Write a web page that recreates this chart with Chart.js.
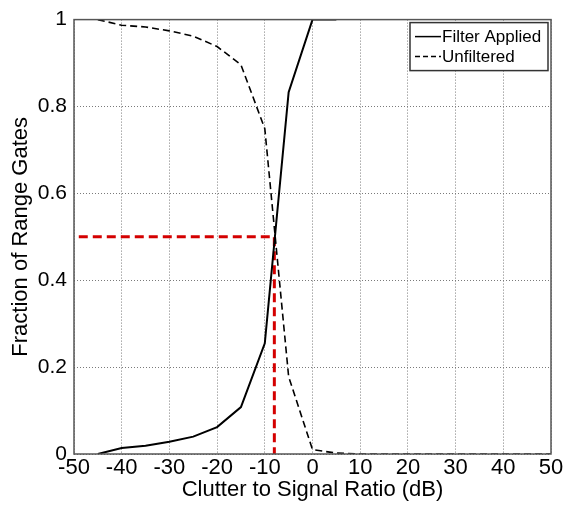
<!DOCTYPE html>
<html lang="en">
<head>
    <meta charset="UTF-8">
    <title>Fraction of Range Gates</title>
    <script src="https://cdn.jsdelivr.net/npm/chart.js@4.4.0/dist/chart.umd.min.js"></script>
    <style>
        html, body { margin: 0; padding: 0; background: #fff; }
        #wrap { width: 566px; height: 505px; }
    </style>
</head>
<body>
    <div id="wrap"><canvas id="myChart" width="566" height="505"></canvas></div>

    <script>
        // values
        const xValues = [-45, -40, -35, -30, -25, -20, -15, -10, -5, 0, 5];
        const filterApplied = [0, 0.014, 0.019, 0.028, 0.04, 0.062, 0.108, 0.255, 0.833, 1.0, 1.0];

        const xUnfiltered = [-45, -40, -35, -30, -25, -20, -15, -10, -5, 0, 5, 10, 15, 20, 25, 30, 35, 40, 45, 50];
        const unfiltered = [1.0, 0.987, 0.983, 0.974, 0.962, 0.938, 0.896, 0.749, 0.178, 0.01, 0.002, 0, 0, 0, 0, 0, 0, 0, 0, 0];

        // red marker at 50 % crossing
        const markerX = [-49, -8, -8];
        const markerY = [0.5, 0.5, 0];

        const seriesNames = ['Filter Applied', 'Unfiltered'];

        const font = '"Liberation Sans", Arial, Helvetica, sans-serif';

        const toPoints = (xs, ys) => xs.map((x, i) => ({ x: x, y: ys[i] }));

        // matlab style box + legend with frame
        const boxPlugin = {
            id: 'boxPlugin',
            afterDraw(chart) {
                const { ctx, chartArea: a } = chart;
                ctx.save();
                ctx.strokeStyle = '#555';
                ctx.lineWidth = 1.5;
                ctx.strokeRect(a.left, a.top, a.right - a.left, a.bottom - a.top);

                // legend
                const w = 138, h = 48;
                const lx = a.right - w - 3, ly = a.top + 3;
                ctx.fillStyle = '#fff';
                ctx.fillRect(lx, ly, w, h);
                ctx.strokeStyle = '#333';
                ctx.lineWidth = 1.5;
                ctx.strokeRect(lx, ly, w, h);
                ctx.font = '17px ' + font;
                ctx.textBaseline = 'middle';
                ctx.fillStyle = '#000';
                const rows = [ly + 14, ly + 34];
                const dashes = [[], [5, 3]];
                seriesNames.forEach((name, i) => {
                    ctx.beginPath();
                    ctx.setLineDash(dashes[i]);
                    ctx.strokeStyle = '#000';
                    ctx.lineWidth = 1.5;
                    ctx.moveTo(lx + 5, rows[i]);
                    ctx.lineTo(lx + 31, rows[i]);
                    ctx.stroke();
                    ctx.setLineDash([]);
                    ctx.fillText(name, lx + 32, rows[i] + 1);
                });
                ctx.restore();
            }
        };

        const ctx = document.getElementById('myChart').getContext('2d');

        new Chart(ctx, {
            type: 'line',
            data: {
                datasets: [
                    {
                        label: 'marker',
                        data: toPoints(markerX, markerY),
                        borderColor: '#d40000',
                        borderWidth: 3,
                        borderDash: [9, 5],
                        pointRadius: 0,
                        tension: 0,
                        order: 3
                    },
                    {
                        label: seriesNames[0],
                        data: toPoints(xValues, filterApplied),
                        borderColor: '#000',
                        borderWidth: 2,
                        pointRadius: 0,
                        tension: 0,
                        order: 1
                    },
                    {
                        label: seriesNames[1],
                        data: toPoints(xUnfiltered, unfiltered),
                        borderColor: '#000',
                        borderWidth: 1.6,
                        borderDash: [7, 4],
                        pointRadius: 0,
                        tension: 0,
                        order: 2
                    }
                ]
            },
            options: {
                responsive: false,
                animation: false,
                layout: {
                    padding: { left: 0, right: 15, top: 17, bottom: 0 }
                },
                scales: {
                    x: {
                        type: 'linear',
                        min: -50,
                        max: 50,
                        afterFit: (scale) => { scale.height = 51; },
                        grid: {
                            color: '#7a7a7a',
                            lineWidth: 1,
                            drawTicks: false
                        },
                        border: { display: false, dash: [1, 2] },
                        ticks: {
                            stepSize: 10,
                            color: '#000',
                            padding: 1,
                            font: { family: font, size: 22 }
                        },
                        title: {
                            display: true,
                            text: 'Clutter to Signal Ratio (dB)',
                            color: '#000',
                            padding: { top: 0, bottom: 2 },
                            font: { family: font, size: 22 }
                        }
                    },
                    y: {
                        min: 0,
                        max: 1,
                        afterFit: (scale) => { scale.width = 74; },
                        grid: {
                            color: '#7a7a7a',
                            lineWidth: 1,
                            drawTicks: false
                        },
                        border: { display: false, dash: [1, 2] },
                        ticks: {
                            stepSize: 0.2,
                            color: '#000',
                            padding: 7,
                            font: { family: font, size: 21 },
                            callback: (v) => String(+v.toFixed(1))
                        },
                        title: {
                            display: true,
                            text: 'Fraction of Range Gates',
                            color: '#000',
                            padding: { top: 8, bottom: 0 },
                            font: { family: font, size: 22 }
                        }
                    }
                },
                plugins: {
                    legend: { display: false },
                    tooltip: { enabled: false }
                }
            },
            plugins: [boxPlugin]
        });
    </script>
</body>
</html>
